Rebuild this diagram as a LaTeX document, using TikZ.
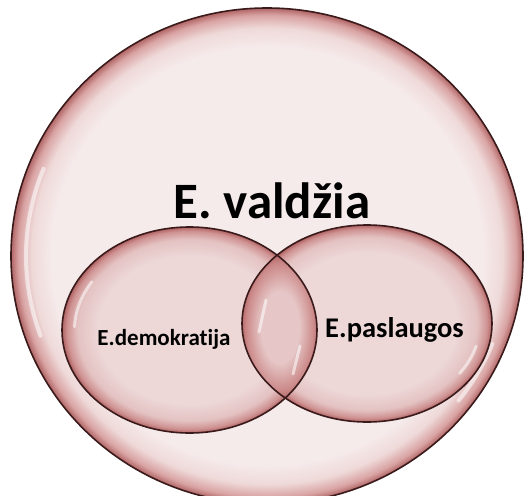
\documentclass[tikz,border=0pt]{standalone}
\usepackage{fontspec}
\setmainfont[Ligatures={NoCommon}]{Carlito}
\definecolor{bigin}{HTML}{F6EBEB}
\definecolor{bigmid}{HTML}{EFD9D9}
\definecolor{bigrim}{HTML}{D9A3A3}
\definecolor{bigedge}{HTML}{B06464}
\definecolor{smin}{HTML}{EDD7D7}
\definecolor{smmid}{HTML}{E4C2C2}
\definecolor{smrim}{HTML}{CF9292}
\definecolor{smedge}{HTML}{B06262}
\definecolor{lensin}{HTML}{E6C6C6}
\definecolor{lensrim}{HTML}{CC8A8A}
\definecolor{lensedge}{HTML}{B06060}
\definecolor{outline}{HTML}{3A1A1A}
\pgfdeclareradialshading{bigbubble}{\pgfpoint{0bp}{0bp}}{color(0bp)=(bigin); color(21bp)=(bigin); color(23bp)=(bigmid); color(24.3bp)=(bigrim); color(25bp)=(bigedge); color(50bp)=(bigedge)}
\pgfdeclareradialshading{smallbubble}{\pgfpoint{0bp}{0bp}}{color(0bp)=(smin); color(18bp)=(smin); color(22bp)=(smmid); color(24bp)=(smrim); color(25bp)=(smedge); color(50bp)=(smedge)}
\pgfdeclareradialshading{lensbubble}{\pgfpoint{0bp}{0bp}}{color(0bp)=(lensin); color(12bp)=(lensin); color(21bp)=(lensrim); color(25bp)=(lensedge); color(50bp)=(lensedge)}
\tikzset{
  rimline/.style={draw=outline, line width=1.6pt},
  gloss/.style={white, line cap=round, opacity=0.55},
  title/.style={font=\bfseries\fontsize{51}{60}\selectfont, anchor=base, inner sep=0pt},
  label/.style={font=\bfseries\fontsize{#1}{#1}\selectfont, anchor=base, inner sep=0pt},
}
\begin{document}
\begin{tikzpicture}[x=1pt, y=-1pt]
\useasboundingbox (0,0) rectangle (526,495);
\clip (0,0) rectangle (526,495);
% big circle
\shade[shading=bigbubble] (267,256) ellipse [x radius=256pt, y radius=248pt];
\draw[gloss, line width=4pt] (267,256) ++(158:241pt and 233pt) arc [start angle=158, end angle=200, x radius=241pt, y radius=233pt];
\draw[gloss, line width=4pt] (267,256) ++(-22:243pt and 235pt) arc [start angle=-22, end angle=-38, x radius=243pt, y radius=235pt];
\draw[rimline] (267,256) ellipse [x radius=256pt, y radius=248pt];
% left ellipse
\shade[shading=smallbubble] (189.5,330) ellipse [x radius=127.5pt, y radius=103pt];
% right ellipse
\shade[shading=smallbubble] (367,323.5) ellipse [x radius=125pt, y radius=98.5pt];
% lens
\begin{scope}
  \clip (189.5,330) ellipse [x radius=127.5pt, y radius=103pt];
  \clip (367,323.5) ellipse [x radius=125pt, y radius=98.5pt];
  \shade[shading=lensbubble] (240,252) rectangle (320,402);
  \draw[gloss, line width=3pt] (266,300) -- (259,332);
  \draw[gloss, line width=3pt] (300,346) -- (293,374);
\end{scope}
% gloss on small ellipses
\draw[gloss, line width=3pt] (189.5,330) ++(148:115pt and 91pt) arc [start angle=148, end angle=178, x radius=115pt, y radius=91pt];
\draw[gloss, line width=3pt] (367,323.5) ++(-15:113pt and 87pt) arc [start angle=-15, end angle=-35, x radius=113pt, y radius=87pt];
\draw[rimline] (189.5,330) ellipse [x radius=127.5pt, y radius=103pt];
\draw[rimline] (367,323.5) ellipse [x radius=125pt, y radius=98.5pt];
% texts
\node[title] (gov) at (272,218) {E. valdžia};
\node[label=23] (dem) at (164,345) {E.demokratija};
\node[label=28.5] (serv) at (394.5,337) {E.paslaugos};
\end{tikzpicture}
\end{document}
